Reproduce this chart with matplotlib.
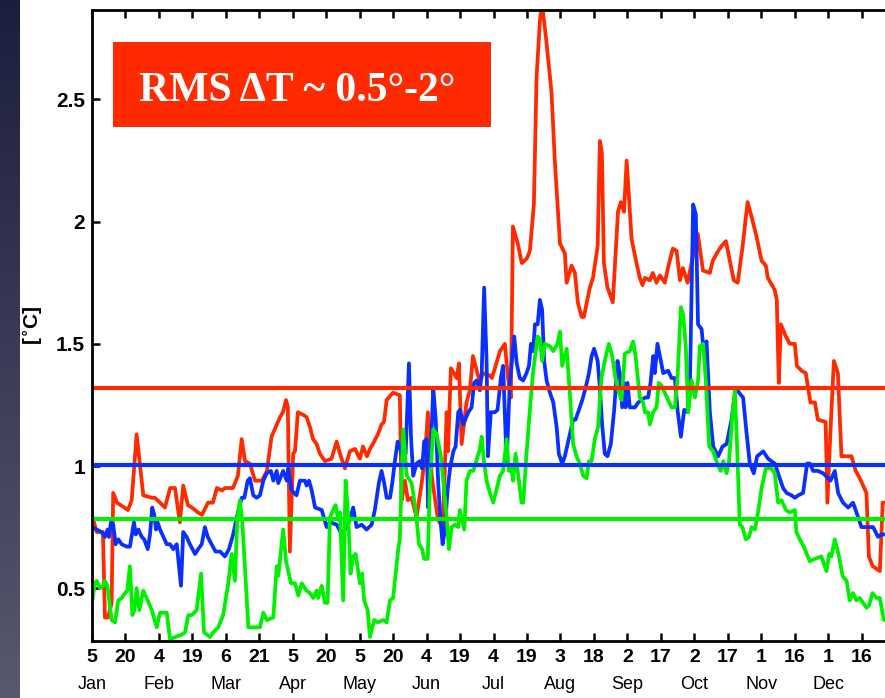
import matplotlib
matplotlib.use("Agg")
import matplotlib.pyplot as plt
import numpy as np
from matplotlib.patches import Rectangle

# x = day of year (non-leap year, 5 = Jan 5), y = RMS temperature difference [C]
red_day = [5.0, 7.1, 9.9, 10.8, 12.2, 13.8, 14.5, 16.2, 21.1, 22.8, 25.0, 28.0, 31.9, 33.2,
           35.5, 37.7, 40.0, 42.2, 44.4, 45.9, 48.0, 49.8, 52.5, 54.3, 57.0, 59.2, 61.0,
           63.3, 64.6, 68.2, 70.4, 72.1, 73.6, 75.8, 78.1, 81.2, 83.4, 85.5, 89.3, 90.6,
           92.0, 92.8, 93.7, 95.2, 96.0, 97.3, 99.6, 101.2, 102.7, 104.1, 105.7, 107.2,
           109.4, 112.4, 114.7, 116.2, 118.4, 120.6, 122.9, 125.1, 126.5, 128.3, 129.6,
           130.9, 133.2, 134.8, 135.9, 137.1, 139.9, 143.0, 143.8, 145.3, 146.6, 148.3,
           150.5, 152.8, 154.3, 155.6, 157.3, 158.7, 160.1, 162.3, 164.0, 164.6, 165.9,
           168.5, 169.5, 170.7, 172.9, 174.4, 175.8, 178.9, 180.2, 183.4, 184.3, 187.9,
           190.1, 191.5, 192.8, 193.7, 195.9, 197.7, 200.0, 201.3, 203.1, 204.3, 205.8,
           206.7, 208.8, 211.0, 212.5, 214.8, 217.0, 217.8, 220.0, 221.5, 222.8, 224.5,
           225.5, 228.2, 229.6, 231.7, 232.7, 233.6, 234.5, 236.1, 238.5, 240.8, 242.1,
           243.5, 244.7, 246.9, 249.1, 250.6, 251.8, 252.9, 255.1, 256.4, 258.1, 259.6,
           261.8, 263.2, 265.4, 267.1, 268.6, 269.9, 272.0, 273.8, 276.6, 278.9, 282.0,
           283.3, 285.1, 287.2, 289.2, 292.7, 294.5, 296.7, 298.9, 300.7, 302.9, 305.2,
           307.1, 308.0, 311.1, 312.0, 312.9, 313.8, 316.1, 317.8, 320.1, 321.0, 323.1,
           325.0, 327.1, 329.1, 330.4, 333.9, 334.7, 336.1, 337.6, 339.4, 341.0, 345.5,
           347.4, 349.2, 352.2, 353.3, 355.0, 358.2, 359.5, 365.0]
red_rms = [0.80, 0.73, 0.73, 0.38, 0.38, 0.44, 0.89, 0.85, 0.82, 0.86, 1.13, 0.88, 0.87, 0.87,
           0.85, 0.83, 0.91, 0.91, 0.77, 0.92, 0.84, 0.83, 0.81, 0.80, 0.85, 0.85, 0.91,
           0.90, 0.91, 0.91, 0.96, 1.11, 1.02, 1.01, 0.94, 0.94, 0.98, 1.12, 1.20, 1.22,
           1.27, 1.24, 0.65, 1.05, 1.06, 1.22, 1.21, 1.20, 1.16, 1.11, 1.09, 1.05,
           1.02, 1.03, 1.10, 1.05, 0.99, 1.06, 1.07, 1.03, 1.08, 1.04, 1.07,
           1.09, 1.13, 1.17, 1.18, 1.27, 1.30, 1.29, 0.86, 0.94, 0.86, 0.87,
           0.79, 0.93, 1.04, 1.22, 0.96, 0.87, 0.78, 0.75, 1.22, 1.06, 1.40,
           1.36, 1.42, 1.09, 1.26, 1.31, 1.45, 1.34, 1.38, 1.37, 1.36, 1.47,
           1.50, 1.36, 1.28, 1.98, 1.91, 1.83, 1.85, 1.88, 2.07, 2.59, 2.82,
           2.90, 2.73, 2.53, 2.25, 1.91, 1.87, 1.75, 1.82, 1.79, 1.67, 1.61,
           1.61, 1.73, 1.77, 1.90, 2.33, 2.28, 1.83, 1.73, 1.67, 2.04, 2.08,
           2.04, 2.25, 1.93, 1.83, 1.77, 1.74, 1.77, 1.76, 1.79, 1.75, 1.78,
           1.75, 1.81, 1.89, 1.88, 1.76, 1.81, 1.75, 1.83, 1.95, 1.80, 1.79,
           1.84, 1.87, 1.90, 1.92, 1.76, 1.75, 1.90, 2.08, 2.02, 1.94, 1.84,
           1.82, 1.77, 1.72, 1.68, 1.34, 1.58, 1.53, 1.50, 1.50, 1.41, 1.39,
           1.38, 1.26, 1.26, 1.19, 1.18, 0.85, 1.15, 1.43, 1.38, 1.04, 1.04,
           0.98, 0.95, 0.89, 0.63, 0.59, 0.57, 0.85, 0.85]

blue_day = [5.1, 7.1, 9.3, 10.8, 12.0, 12.6, 13.5, 14.5, 15.6, 16.8, 18.3, 20.6, 22.0, 23.8,
            24.6, 25.8, 27.3, 28.4, 30.0, 31.0, 32.0, 32.9, 33.7, 34.4, 35.5, 37.0, 38.5,
            40.0, 41.4, 43.0, 44.9, 45.9, 47.4, 48.9, 51.2, 52.6, 54.2, 55.6, 56.9, 58.6,
            60.4, 62.4, 64.6, 66.4, 68.3, 69.9, 72.1, 73.3, 74.8, 75.8, 77.3, 78.8, 80.3,
            81.8, 83.3, 85.2, 86.3, 87.8, 88.5, 90.7, 92.3, 93.0, 94.5, 96.7, 98.2, 100.5,
            101.2, 102.3, 103.5, 105.0, 108.0, 110.2, 111.7, 114.7, 117.0, 118.4, 120.6,
            122.1, 123.6, 125.9, 128.1, 130.4, 131.8, 133.6, 134.8, 136.0, 137.1, 138.6,
            139.6, 140.8, 142.0, 143.0, 144.5, 145.6, 147.1, 148.0, 149.0, 150.5, 152.0,
            153.0, 153.9, 155.0, 155.7, 156.8, 158.0, 159.1, 160.2, 161.4, 162.2, 163.2,
            164.4, 165.5, 167.0, 168.0, 169.2, 170.0, 171.4, 173.7, 175.2, 176.3, 177.4,
            178.9, 179.7, 180.8, 181.9, 182.5, 183.8, 185.6, 186.8, 188.3, 189.3, 190.9,
            192.3, 194.3, 195.4, 196.8, 198.3, 199.8, 200.9, 201.8, 202.8, 203.6, 204.8,
            205.8, 206.8, 207.7, 208.8, 210.3, 211.8, 213.3, 214.3, 215.8, 217.0, 218.5,
            220.7, 221.8, 223.3, 224.8, 226.3, 227.8, 229.0, 230.1, 231.7, 232.7, 233.7,
            234.9, 236.1, 237.6, 239.1, 240.6, 241.6, 242.7, 243.6, 244.2, 245.1, 246.1,
            248.4, 249.9, 251.4, 252.9, 254.3, 255.4, 256.6, 257.3, 258.5, 259.6, 261.1,
            263.3, 264.8, 266.3, 267.5, 269.0, 270.5, 272.0, 273.0, 274.5, 275.7, 276.7,
            278.3, 279.3, 280.5, 282.0, 283.5, 285.7, 287.7, 289.5, 291.7, 293.6, 295.1,
            296.9, 298.4, 299.9, 301.7, 303.2, 305.9, 308.1, 311.1, 312.6, 314.8, 316.4,
            318.6, 320.1, 321.6, 323.8, 325.6, 326.8, 328.3, 330.5, 332.8, 336.1, 338.0,
            339.5, 341.7, 344.0, 346.2, 347.7, 350.0, 352.2, 355.2, 357.4, 358.9, 365.0]
blue_rms = [0.75, 0.74, 0.73, 0.71, 0.74, 0.71, 0.77, 0.76, 0.68, 0.70, 0.68, 0.67, 0.67, 0.77,
            0.72, 0.74, 0.71, 0.70, 0.66, 0.72, 0.83, 0.80, 0.74, 0.77, 0.74, 0.71, 0.68,
            0.68, 0.66, 0.68, 0.51, 0.73, 0.71, 0.68, 0.64, 0.66, 0.68, 0.75, 0.71, 0.68,
            0.65, 0.65, 0.63, 0.66, 0.72, 0.79, 0.87, 0.87, 0.94, 0.95, 0.88, 0.87, 0.88,
            0.94, 0.97, 0.98, 0.94, 0.98, 0.93, 0.98, 0.94, 0.99, 0.90, 0.88, 0.94, 0.94,
            0.92, 0.94, 0.90, 0.83, 0.82, 0.75, 0.77, 0.76, 0.72, 0.74, 0.78,
            0.83, 0.75, 0.76, 0.74, 0.76, 0.82, 0.93, 0.98, 0.93, 0.87, 0.87,
            0.93, 1.02, 1.10, 1.08, 1.02, 1.05, 1.42, 1.12, 0.96, 1.01, 1.02,
            0.99, 1.10, 1.11, 0.83, 1.04, 1.32, 1.19, 0.93, 0.76, 0.68, 0.74,
            0.90, 0.99, 1.06, 1.08, 1.22, 1.23, 1.17, 1.22, 1.24, 1.34, 1.35,
            1.31, 1.38, 1.73, 1.43, 1.04, 1.22, 1.22, 1.23, 1.36, 1.41, 1.01,
            1.34, 1.53, 1.42, 1.36, 1.35, 1.38, 1.41, 1.50, 1.47, 1.58, 1.58,
            1.68, 1.64, 1.43, 1.35, 1.30, 1.26, 1.16, 1.05, 1.01, 1.04, 1.10,
            1.19, 1.19, 1.23, 1.27, 1.32, 1.38, 1.45, 1.48, 1.43, 1.32, 1.17,
            1.05, 1.04, 1.09, 1.23, 1.43, 1.38, 1.24, 1.34, 1.24, 1.34, 1.24,
            1.24, 1.26, 1.27, 1.28, 1.28, 1.34, 1.45, 1.38, 1.50, 1.45, 1.38,
            1.39, 1.36, 1.36, 1.23, 1.12, 1.23, 1.22, 1.30, 2.07, 2.03, 1.58,
            1.56, 1.46, 1.51, 1.22, 1.08, 1.04, 1.08, 1.09, 1.19, 1.32, 1.30,
            1.28, 1.14, 1.01, 0.97, 1.04, 1.06, 1.03, 1.01, 0.97, 0.91, 0.89,
            0.88, 0.87, 0.88, 0.89, 1.01, 1.01, 0.98, 0.98, 0.97, 0.94, 0.98,
            0.89, 0.85, 0.83, 0.85, 0.81, 0.75, 0.75, 0.75, 0.71, 0.72, 0.72]

green_day = [5.3, 6.3, 7.1, 8.6, 10.1, 10.8, 11.9, 13.8, 15.3, 16.8, 18.3, 19.8, 20.8, 22.0,
             23.1, 24.0, 25.0, 26.2, 28.0, 29.5, 31.8, 34.0, 35.5, 38.5, 40.0, 42.2, 45.2,
             46.7, 48.2, 49.7, 51.9, 53.9, 55.2, 57.9, 59.4, 61.6, 63.8, 66.1, 67.6, 69.1,
             70.1, 71.3, 72.4, 75.1, 77.3, 80.3, 81.8, 83.3, 86.3, 87.8, 88.5, 90.7, 92.0,
             93.0, 94.2, 96.0, 97.5, 99.0, 101.2, 102.7, 104.2, 105.7, 106.4, 108.0, 109.4,
             110.6, 111.7, 113.6, 114.2, 115.4, 116.2, 117.6, 118.7, 119.9, 120.9, 122.1,
             123.2, 125.1, 126.1, 127.0, 128.6, 129.6, 131.5, 133.1, 135.6, 137.1, 138.6,
             140.0, 142.3, 143.0, 144.5, 146.1, 148.3, 150.1, 151.6, 153.0, 153.9, 155.5,
             156.5, 158.0, 159.5, 161.4, 162.9, 164.0, 165.0, 166.2, 167.7, 169.2, 169.9,
             171.9, 172.9, 174.4, 175.9, 176.7, 177.9, 178.9, 179.7, 180.7, 181.9, 183.4,
             184.9, 187.9, 189.3, 190.9, 191.9, 193.1, 193.8, 194.9, 197.6, 198.3, 199.8,
             201.3, 202.8, 204.8, 205.8, 206.8, 208.0, 210.3, 211.8, 213.7, 214.8, 215.8,
             217.8, 219.2, 220.7, 222.2, 223.7, 225.2, 226.7, 227.8, 229.0, 230.4, 231.9,
             233.4, 234.9, 236.7, 238.2, 239.7, 241.2, 242.4, 243.9, 246.1, 247.6, 248.7,
             250.6, 252.1, 252.9, 254.3, 255.1, 256.6, 258.1, 259.1, 260.3, 261.8, 263.3,
             264.8, 266.3, 267.5, 269.0, 270.0, 271.2, 272.3, 273.8, 275.3, 276.7, 277.5,
             279.0, 280.2, 281.7, 283.5, 285.3, 286.8, 288.0, 289.5, 290.6, 292.2, 293.2,
             294.2, 295.4, 296.6, 298.1, 299.6, 300.7, 302.2, 303.6, 305.2, 307.1, 309.6,
             311.1, 312.6, 314.1, 316.1, 317.8, 320.1, 320.8, 322.3, 324.1, 326.8, 329.0,
             332.0, 334.3, 335.5, 336.5, 338.0, 339.9, 341.5, 343.3, 344.7, 346.2, 347.7,
             349.2, 352.2, 353.4, 354.9, 356.7, 358.2, 360.0, 365.0]
green_rms = [0.46, 0.52, 0.53, 0.50, 0.51, 0.53, 0.51, 0.37, 0.36, 0.45, 0.46, 0.48, 0.49, 0.59,
             0.39, 0.41, 0.50, 0.41, 0.49, 0.46, 0.41, 0.34, 0.40, 0.40, 0.29, 0.30, 0.31,
             0.32, 0.39, 0.39, 0.41, 0.56, 0.32, 0.30, 0.32, 0.34, 0.39, 0.52, 0.64, 0.53,
             0.78, 0.86, 0.77, 0.34, 0.34, 0.34, 0.40, 0.37, 0.38, 0.59, 0.55, 0.74, 0.61,
             0.57, 0.52, 0.52, 0.47, 0.52, 0.49, 0.48, 0.46, 0.49, 0.46, 0.51, 0.44,
             0.44, 0.79, 0.83, 0.84, 0.78, 0.81, 0.45, 0.94, 0.79, 0.56, 0.63,
             0.64, 0.52, 0.56, 0.45, 0.41, 0.30, 0.37, 0.36, 0.37, 0.36, 0.45,
             0.46, 0.66, 0.70, 1.15, 0.96, 0.93, 0.82, 0.68, 0.66, 0.62, 0.62,
             0.93, 1.15, 1.13, 1.04, 0.90, 0.79, 0.66, 0.75, 0.76, 0.75, 0.82,
             0.74, 0.94, 0.98, 0.98, 1.00, 1.04, 1.07, 1.12, 1.02, 0.94, 0.89,
             0.85, 0.96, 0.98, 1.11, 0.98, 0.99, 0.94, 1.05, 0.85, 0.85, 1.05,
             1.23, 1.39, 1.53, 1.52, 1.43, 1.50, 1.49, 1.47, 1.50, 1.55, 1.41,
             1.48, 1.30, 1.09, 1.04, 1.01, 0.96, 0.95, 1.02, 1.02, 1.11, 1.16,
             1.36, 1.43, 1.50, 1.45, 1.36, 1.30, 1.27, 1.46, 1.47, 1.51, 1.45,
             1.28, 1.26, 1.22, 1.22, 1.17, 1.22, 1.24, 1.34, 1.33, 1.30, 1.27,
             1.24, 1.24, 1.36, 1.65, 1.62, 1.49, 1.22, 1.35, 1.28, 1.35, 1.49,
             1.50, 1.35, 1.08, 1.06, 1.01, 0.98, 1.02, 0.97, 1.02, 1.22, 1.31,
             1.08, 0.76, 0.75, 0.70, 0.71, 0.75, 0.74, 0.81, 0.91, 0.99, 0.99,
             0.97, 0.85, 0.86, 0.82, 0.81, 0.82, 0.73, 0.70, 0.67, 0.61, 0.62,
             0.63, 0.57, 0.64, 0.63, 0.70, 0.63, 0.55, 0.53, 0.45, 0.48, 0.45,
             0.46, 0.42, 0.43, 0.48, 0.46, 0.46, 0.37, 0.36]

# annual mean RMS of each series
red_mean = 1.32
blue_mean = 1.003
green_mean = 0.782

tick_days = list(range(5, 351, 15))
tick_labels = ["5", "20", "4", "19", "6", "21", "5", "20", "5", "20", "4", "19",
               "4", "19", "3", "18", "2", "17", "2", "17", "1", "16", "1", "16"]
month_names = ["Jan", "Feb", "Mar", "Apr", "May", "Jun",
               "Jul", "Aug", "Sep", "Oct", "Nov", "Dec"]
y_ticks = [0.5, 1, 1.5, 2, 2.5]
y_tick_labels = ["0.5", "1", "1.5", "2", "2.5"]

RED = "#ff2a00"
BLUE = "#0a30ff"
GREEN = "#00f000"

plt.rcParams["font.family"] = ["Liberation Sans", "DejaVu Sans"]

fig = plt.figure(figsize=(8.85, 6.98), dpi=100)

# dark slide edge on the left
strip = fig.add_axes([0, 0, 20 / 885, 1])
grad = np.linspace(0, 1, 256).reshape(-1, 1)
top_col = np.array([28, 30, 62]) / 255
bot_col = np.array([88, 88, 110]) / 255
strip.imshow(top_col + grad[:, :, None] * (bot_col - top_col), aspect="auto",
             extent=[0, 1, 0, 1], origin="upper")
strip.axis("off")

ax = fig.add_axes([92 / 885, 1 - 641 / 698, 803 / 885, 631 / 698])

ax.plot(red_day, red_rms, color=RED, lw=2.7, solid_joinstyle="round")
ax.plot(blue_day, blue_rms, color=BLUE, lw=2.7, solid_joinstyle="round")
ax.plot(green_day, green_rms, color=GREEN, lw=2.7, solid_joinstyle="round")
ax.axhline(red_mean, color=RED, lw=3)
ax.axhline(blue_mean, color=BLUE, lw=3)
ax.axhline(green_mean, color=GREEN, lw=3)

ax.set_xlim(5, 365)
ax.set_ylim(0.284, 2.866)

ax.set_xticks(tick_days)
ax.set_xticklabels(tick_labels, fontsize=14, fontweight="bold")
ax.set_yticks(y_ticks)
ax.set_yticklabels(y_tick_labels, fontsize=15, fontweight="bold")
ax.tick_params(direction="in", length=5.5, width=1.8, top=True, right=True)
ax.tick_params(axis="x", pad=6)
ax.tick_params(axis="y", pad=5)
for spine in ax.spines.values():
    spine.set_linewidth(2)

for i, name in enumerate(month_names):
    ax.annotate(name, xy=(tick_days[2 * i], 0), xycoords=("data", "axes fraction"),
                xytext=(0, -25), textcoords="offset points",
                ha="center", va="top", fontsize=13)

ax.set_ylabel(r"[$\mathbf{^{\circ}}$C]", fontsize=15, fontweight="bold", labelpad=8)

ax.add_patch(Rectangle((0.0262, 0.8146), 0.4707, 0.1347, transform=ax.transAxes,
                       facecolor=RED, edgecolor="none", zorder=5))
ax.text(0.2553, 0.8563, "RMS ΔT ~ 0.5°-2°", transform=ax.transAxes,
        ha="center", va="baseline", color="white", fontsize=30, fontweight="bold",
        family=["Liberation Serif", "DejaVu Serif"], zorder=6)

fig.savefig("out.png", dpi=100)
